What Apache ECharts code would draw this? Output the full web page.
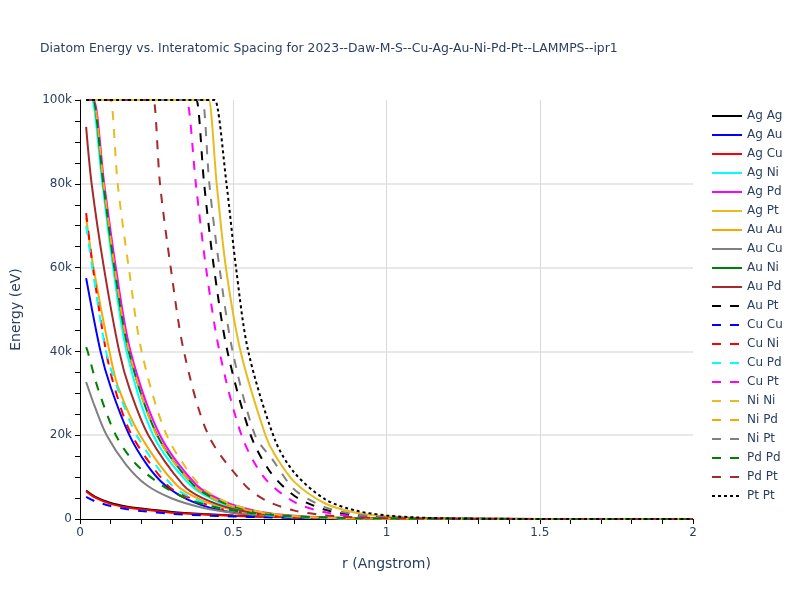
<!DOCTYPE html>
<html>
<head>
<meta charset="utf-8">
<script src="https://cdn.jsdelivr.net/npm/echarts@6/dist/echarts.min.js"></script>
<style>html,body{margin:0;padding:0;background:#fff}#c{width:800px;height:600px}</style>
</head>
<body>
<div id="c"></div>
<script>
// ---- data: [r (Angstrom), energy (eV)] ----
const pairNames = ["Ag Ag","Ag Au","Ag Cu","Ag Ni","Ag Pd","Ag Pt","Au Au","Au Cu","Au Ni","Au Pd","Au Pt","Cu Cu","Cu Ni","Cu Pd","Cu Pt","Ni Ni","Ni Pd","Ni Pt","Pd Pd","Pd Pt","Pt Pt"];
const agAg = [[0.02,6800],[0.05,5300],[0.1,3800],[0.15,3000],[0.2,2500],[0.3,1700],[0.4,1200],[0.5,850],[0.6,600],[0.7,420],[0.8,300],[1.0,150],[1.2,70],[1.5,20],[2.0,0]];
const agAu = [[0.02,57500],[0.067,40000],[0.1,31500],[0.161,20000],[0.22,12800],[0.277,8100],[0.35,4700],[0.45,2200],[0.55,1050],[0.65,500],[0.8,160],[1.0,40],[1.2,10],[1.5,0],[2.0,0]];
const agCu = [[0.02,6600],[0.05,5100],[0.1,3600],[0.15,2800],[0.2,2300],[0.3,1500],[0.4,1050],[0.5,750],[0.6,520],[0.8,250],[1.0,120],[1.5,15],[2.0,0]];
const agNi = [[0.02,100000],[0.034,100000],[0.038,100000],[0.073,80000],[0.108,60000],[0.152,40000],[0.239,20000],[0.36,8100],[0.45,4100],[0.55,1900],[0.65,900],[0.8,300],[1.0,70],[1.2,15],[1.5,0],[2.0,0]];
const agPd = [[0.02,100000],[0.04,100000],[0.045,100000],[0.079,80000],[0.117,60000],[0.165,40000],[0.261,20000],[0.38,8100],[0.47,4200],[0.57,2000],[0.67,950],[0.8,340],[1.0,80],[1.2,18],[1.5,0],[2.0,0]];
const agPt = [[0.02,100000],[0.415,100000],[0.42,100000],[0.446,80000],[0.476,60000],[0.524,40000],[0.605,20000],[0.636,15300],[0.7,8800],[0.8,3700],[0.9,1500],[1.0,640],[1.2,110],[1.5,8],[2.0,0]];
const auAu = [[0.02,72000],[0.044,60000],[0.096,40000],[0.124,31600],[0.196,20000],[0.315,8100],[0.4,4400],[0.5,2200],[0.6,1100],[0.7,540],[0.8,270],[1.0,65],[1.2,16],[1.5,0],[2.0,0]];
const auCu = [[0.02,32700],[0.05,26500],[0.087,20000],[0.15,13000],[0.217,8100],[0.3,4900],[0.4,2700],[0.5,1500],[0.6,850],[0.7,470],[0.8,260],[1.0,80],[1.2,25],[1.5,5],[2.0,0]];
const auNi = [[0.02,100000],[0.038,100000],[0.042,100000],[0.076,80000],[0.112,60000],[0.159,40000],[0.252,20000],[0.37,8100],[0.46,4100],[0.56,1900],[0.66,900],[0.8,310],[1.0,70],[1.2,15],[1.5,0],[2.0,0]];
const auPd = [[0.02,93600],[0.038,80000],[0.078,60000],[0.128,40000],[0.162,31000],[0.223,20000],[0.337,8100],[0.4,5000],[0.5,2400],[0.6,1200],[0.7,600],[0.8,300],[1.0,70],[1.2,17],[1.5,0],[2.0,0]];
const auPt = [[0.02,100000],[0.375,100000],[0.38,100000],[0.405,80000],[0.437,60000],[0.481,40000],[0.557,20000],[0.62,11300],[0.7,5500],[0.8,2200],[0.9,900],[1.0,370],[1.2,60],[1.5,4],[2.0,0]];
const cuCu = [[0.02,5300],[0.05,4200],[0.1,3100],[0.15,2400],[0.2,1900],[0.3,1250],[0.4,850],[0.5,600],[0.6,420],[0.8,200],[1.0,100],[1.5,10],[2.0,0]];
const cuNi = [[0.02,73000],[0.042,60000],[0.085,40000],[0.115,30800],[0.169,20000],[0.285,8100],[0.35,5300],[0.45,2600],[0.55,1300],[0.65,640],[0.8,225],[1.0,55],[1.2,12],[1.5,0],[2.0,0]];
const cuPd = [[0.02,70000],[0.04,60000],[0.085,40000],[0.124,30800],[0.185,20000],[0.299,8100],[0.37,4900],[0.47,2400],[0.57,1200],[0.67,600],[0.8,220],[1.0,55],[1.2,12],[1.5,0],[2.0,0]];
const cuPt = [[0.02,100000],[0.343,100000],[0.348,100000],[0.378,80000],[0.411,60000],[0.455,40000],[0.527,20000],[0.6,10000],[0.7,4000],[0.8,1600],[0.9,650],[1.0,260],[1.2,45],[1.5,3],[2.0,0]];
const niNi = [[0.02,100000],[0.095,100000],[0.1,100000],[0.123,80000],[0.159,60000],[0.201,40000],[0.283,20000],[0.39,8100],[0.47,4300],[0.55,2300],[0.65,1000],[0.8,310],[1.0,62],[1.2,13],[1.5,0],[2.0,0]];
const niPd = [[0.02,100000],[0.039,100000],[0.043,100000],[0.077,80000],[0.113,60000],[0.16,40000],[0.25,20000],[0.37,8100],[0.46,4100],[0.56,1900],[0.66,900],[0.8,300],[1.0,70],[1.2,15],[1.5,0],[2.0,0]];
const niPt = [[0.02,100000],[0.395,100000],[0.40,100000],[0.422,80000],[0.455,60000],[0.498,40000],[0.571,20000],[0.63,14000],[0.7,7000],[0.8,2800],[0.9,1100],[1.0,450],[1.2,75],[1.5,5],[2.0,0]];
const pdPd = [[0.02,41000],[0.025,40000],[0.06,30800],[0.117,20000],[0.18,13300],[0.266,8100],[0.35,4800],[0.45,2700],[0.55,1500],[0.65,850],[0.8,350],[1.0,110],[1.2,35],[1.5,8],[2.0,0]];
const pdPt = [[0.02,100000],[0.235,100000],[0.24,100000],[0.261,80000],[0.296,60000],[0.339,40000],[0.419,20000],[0.538,8100],[0.61,4300],[0.7,2000],[0.8,900],[0.9,400],[1.0,180],[1.2,35],[1.5,2],[2.0,0]];
const ptPt = [[0.02,100000],[0.435,100000],[0.44,100000],[0.478,80000],[0.509,60000],[0.549,40000],[0.636,18900],[0.7,11000],[0.8,4700],[0.9,2000],[1.0,850],[1.1,360],[1.2,150],[1.5,10],[2.0,0]];
const seriesData = [agAg,agAu,agCu,agNi,agPd,agPt,auAu,auCu,auNi,auPd,auPt,cuCu,cuNi,cuPd,cuPt,niNi,niPd,niPt,pdPd,pdPt,ptPt];
const xTicks = [0, 0.5, 1, 1.5, 2];
const yTicks = [0, 20000, 40000, 60000, 80000, 100000];

// ---- styles ----
const colors = ['#000000','#0000ff','#ff0000','#00ffff','#ff00ff','#e8bc1e','#ffa500','#808080','#008000','#a52a2a',
                '#000000','#0000ff','#ff0000','#00ffff','#ff00ff','#e8bc1e','#ffa500','#808080','#008000','#a52a2a','#000000'];
const dashes = [];
for (let i = 0; i < 21; i++) dashes.push(i < 10 ? 'solid' : (i < 20 ? [9, 9] : [3, 3]));

const FONT = '"DejaVu Sans", Verdana, sans-serif';
const TXT = '#2a3f5f';

const chart = echarts.init(document.getElementById('c'), null, {renderer: 'canvas'});
chart.setOption({
  backgroundColor: '#ffffff',
  animation: false,
  title: {
    text: 'Diatom Energy vs. Interatomic Spacing for 2023--Daw-M-S--Cu-Ag-Au-Ni-Pd-Pt--LAMMPS--ipr1',
    left: 35, top: 38,
    textStyle: {fontFamily: FONT, fontSize: 12.4, fontWeight: 'normal', color: TXT}
  },
  legend: {
    orient: 'vertical', left: 706, top: 105,
    itemWidth: 30, itemHeight: 14, itemGap: 7,
    textStyle: {fontFamily: FONT, fontSize: 12, color: TXT},
    itemStyle: {opacity: 0, borderWidth: 0},
    data: pairNames
  },
  grid: {left: 80, right: 107, top: 100, bottom: 81, containLabel: false},
  xAxis: {
    type: 'value', min: xTicks[0], max: xTicks[xTicks.length - 1], interval: 0.5,
    name: 'r (Angstrom)', nameLocation: 'middle', nameGap: 38,
    nameTextStyle: {fontFamily: FONT, fontSize: 14, color: TXT},
    axisLine: {show: true, lineStyle: {color: '#000', width: 1}},
    axisTick: {show: true, length: 5, lineStyle: {color: '#000'}},
    minorTick: {show: true, splitNumber: 5, length: 5, lineStyle: {color: '#000'}},
    axisLabel: {fontFamily: FONT, fontSize: 12, color: TXT, margin: 8},
    splitLine: {show: true, showMinLine: false, showMaxLine: false, lineStyle: {color: '#d9d9d9', width: 1}}
  },
  yAxis: {
    type: 'value', min: yTicks[0], max: yTicks[yTicks.length - 1], interval: 20000,
    name: 'Energy (eV)', nameLocation: 'middle', nameGap: 57, nameRotate: 90,
    nameTextStyle: {fontFamily: FONT, fontSize: 14, color: TXT},
    axisLine: {show: true, lineStyle: {color: '#000', width: 1}},
    axisTick: {show: true, length: 5, lineStyle: {color: '#000'}},
    minorTick: {show: true, splitNumber: 4, length: 5, lineStyle: {color: '#000'}},
    axisLabel: {fontFamily: FONT, fontSize: 12, color: TXT, margin: 8,
      formatter: v => v === 0 ? '0' : (v / 1000) + 'k'},
    splitLine: {show: true, showMinLine: false, showMaxLine: false, lineStyle: {color: '#e8e8e8', width: 2}}
  },
  series: pairNames.map((n, i) => ({
    name: n, type: 'line', data: seriesData[i],
    symbol: 'none', smooth: 0.3,
    lineStyle: {color: colors[i], width: 2, type: dashes[i]},
    itemStyle: {color: colors[i]},
    emphasis: {disabled: true}
  }))
});
</script>
</body>
</html>
